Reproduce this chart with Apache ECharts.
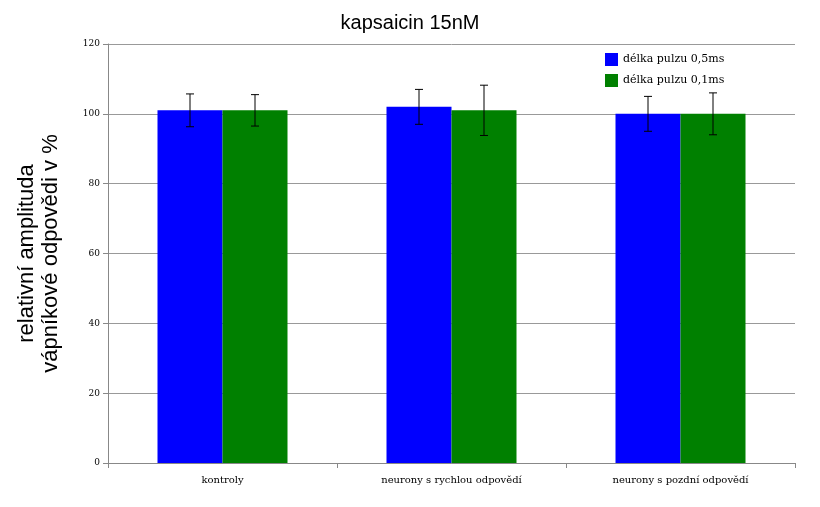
<!DOCTYPE html>
<html lang="cs" style="height: 100%">
<head>
<meta charset="UTF-8">
<title>kapsaicin 15nM</title>
<script src="https://cdn.jsdelivr.net/npm/echarts@6/dist/echarts.min.js"></script>
</head>
<body style="height: 100%; margin: 0">
<div id="main" style="width: 820px; height: 507px"></div>
<script>
var categories = ['kontroly', 'neurony s rychlou odpovědí', 'neurony s pozdní odpovědí'];
var seriesNames = ['délka pulzu 0,5ms', 'délka pulzu 0,1ms'];
var values05 = [101, 102, 100];
var errors05 = [4.7, 5, 5];
var values01 = [101, 101, 100];
var errors01 = [4.5, 7.2, 6];

function errorSeries(values, errors, offset) {
    return {
        type: 'custom',
        z: 5,
        data: values.map(function (v, i) { return [i, v - errors[i], v + errors[i]]; }),
        renderItem: function (params, api) {
            var lo = api.coord([api.value(0), api.value(1)]);
            var hi = api.coord([api.value(0), api.value(2)]);
            var x = lo[0] + offset;
            var st = { stroke: '#000', lineWidth: 1 };
            return {
                type: 'group',
                children: [
                    { type: 'line', shape: { x1: x, y1: lo[1], x2: x, y2: hi[1] }, style: st },
                    { type: 'line', shape: { x1: x - 4, y1: lo[1], x2: x + 4, y2: lo[1] }, style: st },
                    { type: 'line', shape: { x1: x - 4, y1: hi[1], x2: x + 4, y2: hi[1] }, style: st }
                ]
            };
        }
    };
}

var myChart = echarts.init(document.getElementById('main'));
myChart.setOption({
    animation: false,
    backgroundColor: '#fff',
    title: {
        text: 'kapsaicin 15nM', left: 'center', top: 8,
        textStyle: { fontFamily: 'Liberation Sans', fontSize: 20, fontWeight: 'normal', color: '#000' }
    },
    legend: {
        orient: 'vertical', left: 600, top: 48, itemGap: 8,
        icon: 'rect', itemWidth: 13, itemHeight: 13,
        data: seriesNames,
        textStyle: { fontFamily: 'DejaVu Serif', fontSize: 11, color: '#000' }
    },
    grid: { left: 108, right: 25, top: 44, bottom: 44 },
    xAxis: {
        type: 'category', data: categories,
        axisLine: { lineStyle: { color: '#888' } },
        axisTick: { show: true, alignWithLabel: false, lineStyle: { color: '#888' } },
        axisLabel: { fontFamily: 'DejaVu Serif', fontSize: 10, color: '#000', margin: 12 }
    },
    yAxis: {
        type: 'value', min: 0, max: 120, interval: 20,
        name: 'relativní amplituda\nvápníkové odpovědi v %',
        nameLocation: 'middle', nameGap: 45,
        nameTextStyle: { fontFamily: 'Liberation Sans', fontSize: 22, color: '#000', lineHeight: 24 },
        axisLine: { show: true, lineStyle: { color: '#888' } },
        axisTick: { show: true, lineStyle: { color: '#888' } },
        axisLabel: { fontFamily: 'DejaVu Serif', fontSize: 9, color: '#000' },
        splitLine: { lineStyle: { color: '#999' } }
    },
    series: [
        { name: seriesNames[0], type: 'bar', data: values05, barWidth: 65, barGap: '0%', itemStyle: { color: '#0000ff' } },
        { name: seriesNames[1], type: 'bar', data: values01, barWidth: 65, itemStyle: { color: '#008000' } },
        errorSeries(values05, errors05, -32.5),
        errorSeries(values01, errors01, 32.5)
    ]
});
</script>
</body>
</html>
